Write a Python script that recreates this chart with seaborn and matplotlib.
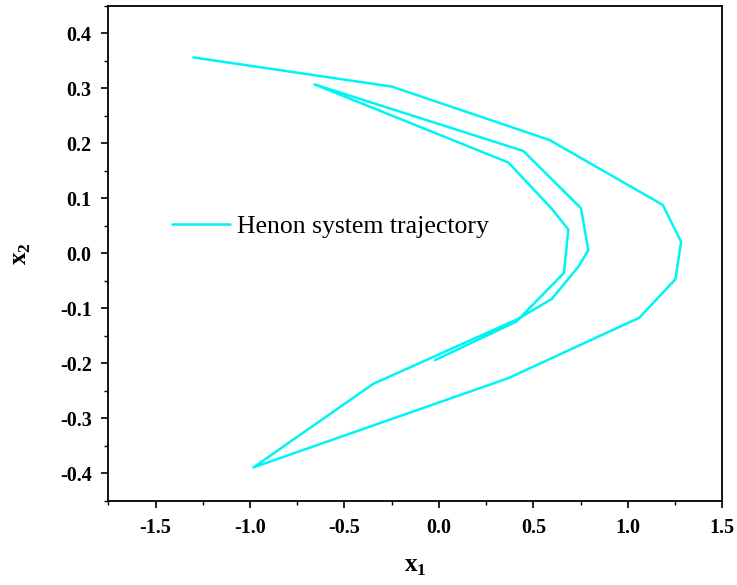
import matplotlib
matplotlib.use("Agg")
import matplotlib.pyplot as plt
from matplotlib.ticker import MultipleLocator, FormatStrFormatter
import seaborn as sns
import pandas as pd

# Henon system trajectory, visited in order
x1 = [-1.300, -0.250, 0.585, 1.185, 1.282, 1.252, 1.061, 0.366, -0.982, -0.347,
      0.420, 0.597, 0.738, 0.791, 0.752, 0.447, -0.659, 0.368, 0.600, 0.685,
      0.662, 0.410, -0.020]
x2 = [0.356, 0.303, 0.206, 0.088, 0.021, -0.047, -0.117, -0.227, -0.389, -0.237,
      -0.119, -0.083, -0.0245, 0.006, 0.082, 0.186, 0.307, 0.165, 0.080, 0.0435,
      -0.0355, -0.124, -0.194]
series_label = "Henon system trajectory"

x_ticks = [-1.5, -1.0, -0.5, 0.0, 0.5, 1.0, 1.5]
y_ticks = [-0.4, -0.3, -0.2, -0.1, 0.0, 0.1, 0.2, 0.3, 0.4]

df = pd.DataFrame({"x1": x1, "x2": x2, "step": range(len(x1)), "series": series_label})

sns.set_theme(style="ticks")
plt.rcParams["font.family"] = ["Liberation Serif", "DejaVu Serif"]
plt.rcParams["mathtext.fontset"] = "custom"
plt.rcParams["mathtext.rm"] = "Liberation Serif"
plt.rcParams["mathtext.bf"] = "Liberation Serif:bold"
plt.rcParams["text.color"] = "black"
plt.rcParams["axes.labelcolor"] = "black"

fig = plt.figure(figsize=(7.37, 5.85), dpi=100)
ax = fig.add_axes([0.147, 0.1436, 0.833, 0.8467])

sns.lineplot(data=df, x="x1", y="x2", hue="series", palette=["#00F4F4"],
             sort=False, estimator=None, lw=1.8, ax=ax)

ax.set_xlim(-1.75, 1.5)
ax.set_ylim(-0.45, 0.45)
ax.set_xticks(x_ticks)
ax.set_yticks(y_ticks)
ax.xaxis.set_major_formatter(FormatStrFormatter("%.1f"))
ax.yaxis.set_major_formatter(FormatStrFormatter("%.1f"))
ax.xaxis.set_minor_locator(MultipleLocator(0.25))
ax.yaxis.set_minor_locator(MultipleLocator(0.05))

for side in ["left", "bottom", "top", "right"]:
    ax.spines[side].set_visible(True)
    ax.spines[side].set_linewidth(1.3)
    ax.spines[side].set_color("black")

ax.tick_params(which="major", direction="out", length=5, width=1.2,
               colors="black", labelsize=14.5, pad=7,
               top=False, right=False)
ax.tick_params(which="minor", direction="out", length=3, width=1.0,
               colors="black", top=False, right=False)
for lab in ax.get_xticklabels() + ax.get_yticklabels():
    lab.set_fontweight("bold")

ax.set_xlabel(r"$\mathbf{x}_\mathbf{1}$", fontsize=18, labelpad=13)
ax.set_ylabel(r"$\mathbf{x}_\mathbf{2}$", fontsize=18, labelpad=19)

leg = ax.legend(loc="center left", bbox_to_anchor=(0.1037, 0.555),
                frameon=False, fontsize=18.5, borderpad=0, borderaxespad=0,
                handlelength=2.25, handletextpad=0.28)
for text in leg.get_texts():
    text.set_color("black")
for line in leg.get_lines():
    line.set_linewidth(1.8)

fig.savefig("out.png", dpi=100)
